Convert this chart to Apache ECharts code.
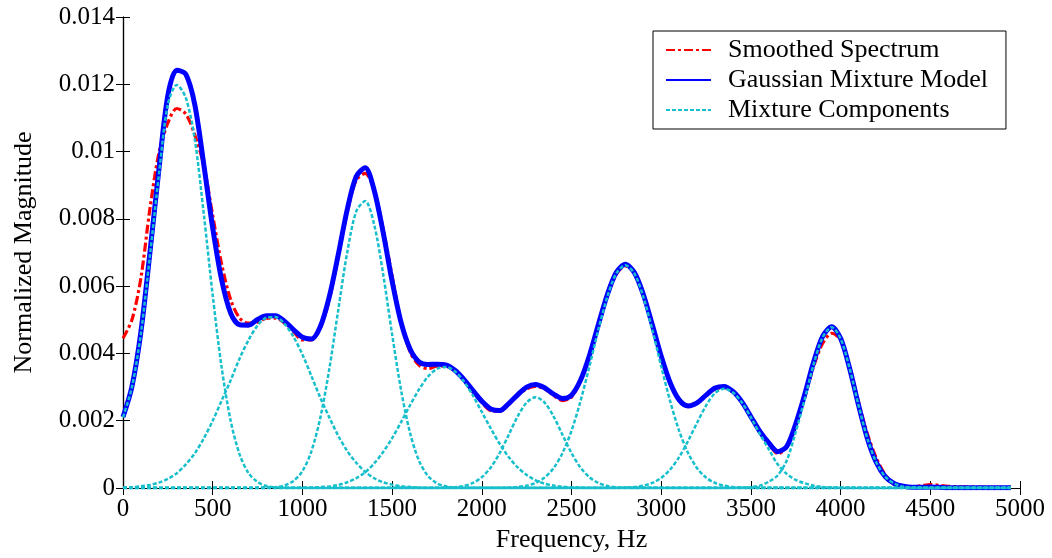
<!DOCTYPE html>
<html>
<head>
<meta charset="utf-8">
<title>Gaussian mixture fit of smoothed spectrum</title>
<script src="https://cdn.jsdelivr.net/npm/echarts@6/dist/echarts.min.js"></script>
<style>
  html, body { margin: 0; padding: 0; background: #fff; }
  #main { width: 1052px; height: 558px; }
</style>
</head>
<body>
<div id="main"></div>
<script>
// frequency grid, Hz
var freq = [
  0, 50, 100, 150, 200, 250, 300, 350, 400, 450, 500, 550, 600, 650, 700, 750, 800, 850, 900, 950,
  1000, 1050, 1100, 1150, 1200, 1250, 1300, 1350, 1400, 1450, 1500, 1550, 1600, 1650, 1700, 1750, 1800, 1850, 1900, 1950,
  2000, 2050, 2100, 2150, 2200, 2250, 2300, 2350, 2400, 2450, 2500, 2550, 2600, 2650, 2700, 2750, 2800, 2850, 2900, 2950,
  3000, 3050, 3100, 3150, 3200, 3250, 3300, 3350, 3400, 3450, 3500, 3550, 3600, 3650, 3700, 3750, 3800, 3850, 3900, 3950,
  4000, 4050, 4100, 4150, 4200, 4250, 4300, 4350, 4400, 4450, 4500, 4550, 4600, 4650, 4700, 4750, 4800, 4850, 4900, 4950
];

// all magnitudes below are in units of 1e-3
var smoothed = [
  4.45, 5.00, 6.25, 8.30, 9.95, 10.85, 11.28, 11.12, 10.50, 9.60, 8.10, 6.65, 5.60, 5.05, 4.90, 4.92, 5.05, 5.05, 4.90, 4.65,
  4.40, 4.40, 4.75, 5.60, 6.90, 8.20, 9.15, 9.35, 8.85, 7.70, 6.30, 4.95, 4.05, 3.65, 3.55, 3.62, 3.62, 3.48, 3.22, 2.90,
  2.55, 2.30, 2.28, 2.48, 2.75, 2.95, 3.02, 2.95, 2.75, 2.60, 2.70, 3.20, 3.95, 4.85, 5.72, 6.35, 6.60, 6.40, 5.78, 4.90,
  3.92, 3.13, 2.63, 2.46, 2.55, 2.76, 2.95, 2.98, 2.85, 2.55, 2.12, 1.68, 1.32, 1.02, 1.22, 1.88, 2.70, 3.62, 4.30, 4.60,
  4.40, 3.60, 2.55, 1.60, 0.88, 0.38, 0.10, 0.05, 0.04, 0.07, 0.10, 0.08, 0.05, 0.04, 0.03, 0.03, 0.02, 0.02, 0.02, 0.02
];
var gmm = [
  2.11, 3.02, 4.65, 6.99, 9.46, 11.67, 12.42, 12.30, 11.40, 9.63, 7.73, 6.18, 5.20, 4.85, 4.84, 5.01, 5.12, 5.12, 4.96, 4.71,
  4.48, 4.43, 4.80, 5.69, 6.94, 8.28, 9.26, 9.52, 8.85, 7.60, 6.15, 4.92, 4.13, 3.75, 3.67, 3.68, 3.66, 3.50, 3.23, 2.90,
  2.58, 2.35, 2.30, 2.51, 2.77, 3.00, 3.08, 2.98, 2.79, 2.66, 2.76, 3.20, 3.94, 4.86, 5.75, 6.41, 6.65, 6.41, 5.76, 4.86,
  3.92, 3.13, 2.62, 2.44, 2.53, 2.76, 2.97, 3.02, 2.87, 2.56, 2.12, 1.68, 1.34, 1.08, 1.24, 1.91, 2.78, 3.75, 4.51, 4.79,
  4.45, 3.56, 2.46, 1.46, 0.75, 0.33, 0.13, 0.05, 0.02, 0.02, 0.03, 0.02, 0.01, 0.01, 0.01, 0.01, 0.01, 0.01, 0.01, 0.01
];

// mixture components: first frequency of each, then values every 50 Hz (zero elsewhere)
var compStart = [0, 0, 800, 1000, 1800, 2150, 2800, 3450];
var comp1 = [2.10, 3.00, 4.60, 6.90, 9.30, 11.40, 11.98, 11.60, 10.37, 8.16, 5.73, 3.58, 2.00, 1.00, 0.44, 0.18, 0.06, 0.02, 0.005];
var comp2 = [0.01, 0.02, 0.05, 0.09, 0.16, 0.27, 0.44, 0.70, 1.03, 1.47, 2.00, 2.60, 3.20, 3.85, 4.40, 4.83, 5.06, 5.08, 4.88, 4.50,
             3.97, 3.33, 2.68, 2.10, 1.55, 1.10, 0.75, 0.48, 0.29, 0.17, 0.10, 0.05, 0.03, 0.01];
var comp3 = [0.01, 0.025, 0.075, 0.21, 0.50, 1.09, 2.09, 3.54, 5.30, 7.01, 8.22, 8.53, 7.83, 6.36, 4.57, 2.91, 1.64, 0.81, 0.36, 0.14,
             0.05, 0.015];
var comp4 = [0.005, 0.011, 0.025, 0.048, 0.09, 0.17, 0.29, 0.47, 0.73, 1.07, 1.48, 1.96, 2.46, 2.93, 3.31, 3.54, 3.60, 3.47, 3.17, 2.75,
             2.26, 1.77, 1.31, 0.92, 0.61, 0.39, 0.23, 0.13, 0.072, 0.037, 0.018, 0.008];
var comp5 = [0.007, 0.02, 0.06, 0.15, 0.32, 0.61, 1.04, 1.58, 2.13, 2.54, 2.70, 2.54, 2.13, 1.58, 1.04, 0.61, 0.32, 0.15, 0.06, 0.02, 0.007];
var comp6 = [0.01, 0.03, 0.07, 0.15, 0.31, 0.59, 1.04, 1.70, 2.58, 3.62, 4.71, 5.69, 6.38, 6.62, 6.38, 5.69, 4.71, 3.62, 2.58, 1.70,
             1.04, 0.59, 0.31, 0.15, 0.07, 0.03, 0.01];
var comp7 = [0.011, 0.028, 0.068, 0.15, 0.30, 0.55, 0.92, 1.40, 1.94, 2.45, 2.82, 2.95, 2.84, 2.54, 2.10, 1.61, 1.15, 0.70, 0.42, 0.24,
             0.14, 0.068, 0.031, 0.013, 0.005];
var comp8 = [0.007, 0.023, 0.07, 0.19, 0.38, 0.82, 1.67, 2.64, 3.68, 4.48, 4.78, 4.44, 3.56, 2.46, 1.46, 0.75, 0.33, 0.13, 0.04, 0.012, 0.003];
var comps = [comp1, comp2, comp3, comp4, comp5, comp6, comp7, comp8];

var xTicks = [0, 500, 1000, 1500, 2000, 2500, 3000, 3500, 4000, 4500, 5000];
var yTicks = ['0', '0.002', '0.004', '0.006', '0.008', '0.01', '0.012', '0.014'];

var FONT = 'Liberation Serif';

function pairs(vals) {
    return freq.map(function (f, i) { return [f, vals[i]]; });
}
function onGrid(start, vals) {
    var k = freq.indexOf(start);
    return freq.map(function (f, j) {
        var v = (j >= k && j - k < vals.length) ? vals[j - k] : 0;
        return [f, v];
    });
}

var series = [{
    name: 'Smoothed Spectrum', type: 'line', symbol: 'none', smooth: 0.3, data: pairs(smoothed),
    lineStyle: { color: '#ff0000', width: 3.2, type: [9, 3, 3, 3] }, itemStyle: { color: '#ff0000' }
}, {
    name: 'Gaussian Mixture Model', type: 'line', symbol: 'none', smooth: 0.3, data: pairs(gmm),
    lineStyle: { color: '#0000ff', width: 5 }, itemStyle: { color: '#0000ff' }
}];
comps.forEach(function (c, i) {
    series.push({
        name: 'Mixture Components', type: 'line', symbol: 'none', smooth: 0.3, data: onGrid(compStart[i], c),
        lineStyle: { color: '#17bfcc', width: 2.5, type: [4, 2] }, itemStyle: { color: '#17bfcc' }
    });
});

var tick = { show: true, inside: true, length: 7, lineStyle: { color: '#000', width: 1 } };
var line = { show: true, lineStyle: { color: '#000', width: 1.2 } };
var label = { color: '#000', fontFamily: FONT, fontSize: 25 };

var option = {
    animation: false,
    backgroundColor: '#fff',
    grid: { left: 123, right: 32, top: 17, bottom: 70 },
    legend: {
        orient: 'vertical', left: 653, top: 31,
        padding: [6, 18, 6, 12], itemGap: 4, itemWidth: 45, itemHeight: 12,
        backgroundColor: '#fff', borderColor: '#000', borderWidth: 1,
        itemStyle: { opacity: 0 },
        data: ['Smoothed Spectrum', 'Gaussian Mixture Model', 'Mixture Components'],
        textStyle: { color: '#000', fontFamily: FONT, fontSize: 26, lineHeight: 25, padding: [0, 0, 0, 12] }
    },
    xAxis: [{
        type: 'value', min: xTicks[0], max: xTicks[xTicks.length - 1], interval: 500,
        name: 'Frequency, Hz', nameLocation: 'middle', nameGap: 36,
        nameTextStyle: { color: '#000', fontFamily: FONT, fontSize: 26 },
        axisLine: line, axisTick: tick, splitLine: { show: false },
        axisLabel: Object.assign({ margin: 9, formatter: function (v) { return String(v); } }, label)
    }, {
        type: 'value', position: 'top', min: xTicks[0], max: xTicks[xTicks.length - 1], interval: 500,
        axisLine: line, axisTick: tick, splitLine: { show: false }, axisLabel: { show: false }
    }],
    yAxis: [{
        type: 'value', min: 0, max: 14, interval: 2,
        name: 'Normalized Magnitude', nameLocation: 'middle', nameGap: 86,
        nameTextStyle: { color: '#000', fontFamily: FONT, fontSize: 26 },
        axisLine: line, axisTick: tick, splitLine: { show: false },
        axisLabel: Object.assign({ margin: 8, formatter: function (v) { return yTicks[Math.round(v / 2)]; } }, label)
    }, {
        type: 'value', position: 'right', min: 0, max: 14, interval: 2,
        axisLine: line, axisTick: tick, splitLine: { show: false }, axisLabel: { show: false }
    }],
    series: series
};

var chart = echarts.init(document.getElementById('main'), null, { renderer: 'canvas' });
chart.setOption(option);
</script>
</body>
</html>
